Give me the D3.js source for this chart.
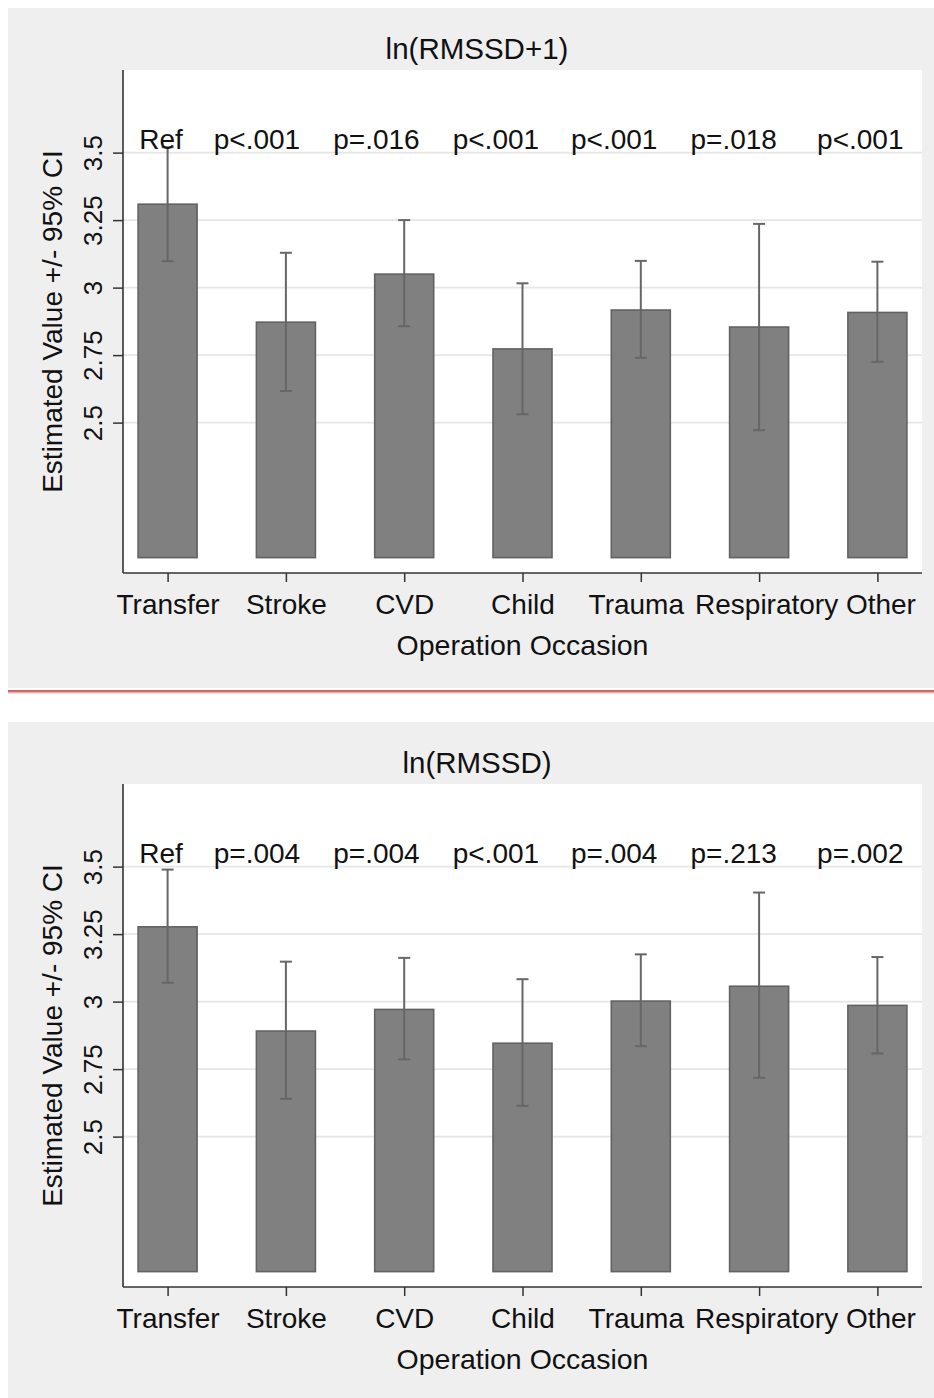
<!DOCTYPE html>
<html>
<head>
<meta charset="utf-8">
<script src="https://cdn.jsdelivr.net/npm/d3@7"></script>
<style>
  html, body { margin: 0; padding: 0; background: #ffffff; }
  svg { display: block; }
  text { font-family: "Liberation Sans", Arial, sans-serif; fill: #111111; }
</style>
</head>
<body>
<svg id="chart" width="934" height="1398"></svg>
<script>
// ---------- data ----------
const categories = ["Transfer", "Stroke", "CVD", "Child", "Trauma", "Respiratory", "Other"];
const yTicks = [2.5, 2.75, 3, 3.25, 3.5];

const rmssd1Mean  = [3.309, 2.872, 3.050, 2.773, 2.917, 2.854, 2.908];
const rmssd1Lower = [3.098, 2.617, 2.857, 2.531, 2.740, 2.472, 2.725];
const rmssd1Upper = [3.520, 3.129, 3.250, 3.016, 3.099, 3.236, 3.096];
const rmssd1P     = ["Ref", "p<.001", "p=.016", "p<.001", "p<.001", "p=.018", "p<.001"];

const rmssdMean  = [3.277, 2.891, 2.971, 2.846, 3.002, 3.057, 2.986];
const rmssdLower = [3.070, 2.640, 2.786, 2.614, 2.835, 2.718, 2.808];
const rmssdUpper = [3.489, 3.148, 3.162, 3.083, 3.175, 3.404, 3.165];
const rmssdP     = ["Ref", "p=.004", "p=.004", "p<.001", "p=.004", "p=.213", "p=.002"];

// annotation positions (category-index units, left edge of text) and height (data units)
const pLabelPos = [-0.24, 0.39, 1.40, 2.41, 3.41, 4.42, 5.49];
const pLabelY = 3.513;
const barBase = 2.0;
const yDomain = [1.943, 3.806];

const panels = [
  { title: "ln(RMSSD+1)", mean: rmssd1Mean, lower: rmssd1Lower, upper: rmssd1Upper, p: rmssd1P, top: 8 },
  { title: "ln(RMSSD)",   mean: rmssdMean,  lower: rmssdLower,  upper: rmssdUpper,  p: rmssdP,  top: 722 }
];

// ---------- layout ----------
const svg = d3.select("#chart");
const W = 934;
const plotL = 123, plotR = 922;
const plotTopRel = 62, plotBotRel = 565;   // relative to panel top
const panelH = 680;
const tickLabelNudge = { Trauma: -5, Respiratory: 7, Other: 3 };

// separator line
svg.append("rect").attr("x", 8).attr("y", 690).attr("width", W - 8).attr("height", 2.5)
  .attr("fill", "#d0646a");
svg.append("rect").attr("x", 8).attr("y", 692.5).attr("width", W - 8).attr("height", 1)
  .attr("fill", "#e8b4b6");

const x = d3.scalePoint().domain(categories).range([plotL, plotR]).padding(0.377);
const barW = 59;
const xIdx = d3.scaleLinear().domain([0, categories.length - 1])
  .range([x(categories[0]), x(categories[categories.length - 1])]);

panels.forEach(pn => {
  const g = svg.append("g").attr("transform", `translate(0,${pn.top})`);
  const yTop = plotTopRel, yBot = plotBotRel;
  const y = d3.scaleLinear().domain(yDomain).range([yBot, yTop]);

  // panel background
  g.append("rect").attr("x", 8).attr("y", 0).attr("width", W - 8).attr("height", panelH)
    .attr("fill", "#efefef");
  // plot area
  g.append("rect").attr("x", plotL).attr("y", yTop).attr("width", plotR - plotL).attr("height", yBot - yTop)
    .attr("fill", "#ffffff");

  // gridlines
  g.append("g").selectAll("line").data(yTicks).join("line")
    .attr("x1", plotL).attr("x2", plotR)
    .attr("y1", d => y(d)).attr("y2", d => y(d))
    .attr("stroke", "#e6e6e6").attr("stroke-width", 1.6);

  // bars
  const data = categories.map((c, i) => ({ c, m: pn.mean[i], lo: pn.lower[i], hi: pn.upper[i] }));
  g.append("g").selectAll("rect").data(data).join("rect")
    .attr("x", d => x(d.c) - barW / 2)
    .attr("width", barW)
    .attr("y", d => y(d.m))
    .attr("height", d => y(barBase) - y(d.m))
    .attr("fill", "#808080")
    .attr("stroke", "#626262").attr("stroke-width", 1.6);

  // error bars
  const eb = g.append("g").attr("stroke", "#666666").attr("stroke-width", 2);
  eb.selectAll("line.v").data(data).join("line").attr("class", "v")
    .attr("x1", d => x(d.c)).attr("x2", d => x(d.c))
    .attr("y1", d => y(d.lo)).attr("y2", d => y(d.hi));
  eb.selectAll("line.hi").data(data).join("line").attr("class", "hi")
    .attr("x1", d => x(d.c) - 6).attr("x2", d => x(d.c) + 6)
    .attr("y1", d => y(d.hi)).attr("y2", d => y(d.hi));
  eb.selectAll("line.lo").data(data).join("line").attr("class", "lo")
    .attr("x1", d => x(d.c) - 6).attr("x2", d => x(d.c) + 6)
    .attr("y1", d => y(d.lo)).attr("y2", d => y(d.lo));

  // p-value labels
  g.append("g").selectAll("text").data(pn.p).join("text")
    .attr("x", (d, i) => xIdx(pLabelPos[i]))
    .attr("y", y(pLabelY))
    .attr("font-size", 28)
    .text(d => d);

  // y axis
  const yAxis = d3.axisLeft(y).tickValues(yTicks).tickSize(10).tickFormat(d3.format("~g"));
  const ya = g.append("g").attr("transform", `translate(${plotL},0)`).call(yAxis);
  ya.select(".domain").remove();
  ya.selectAll(".tick line").attr("stroke", "#333").attr("stroke-width", 1.5);
  ya.selectAll(".tick text")
    .attr("font-size", 26).attr("fill", "#111")
    .attr("font-family", "Liberation Sans, Arial, sans-serif")
    .attr("x", null).attr("dy", null)
    .attr("text-anchor", "middle")
    .attr("transform", "translate(-21,0) rotate(-90)");
  g.append("line").attr("x1", plotL).attr("x2", plotL).attr("y1", yTop).attr("y2", yBot)
    .attr("stroke", "#333").attr("stroke-width", 1.6);

  // x axis
  const xAxis = d3.axisBottom(x).tickSize(9).tickSizeOuter(0);
  const xa = g.append("g").attr("transform", `translate(0,${yBot})`).call(xAxis);
  xa.select(".domain").remove();
  xa.selectAll(".tick line").attr("stroke", "#333").attr("stroke-width", 1.5);
  xa.selectAll(".tick text")
    .attr("font-size", 28).attr("fill", "#111")
    .attr("font-family", "Liberation Sans, Arial, sans-serif")
    .attr("y", 41).attr("dy", null)
    .attr("x", d => tickLabelNudge[d] || 0);
  g.append("line").attr("x1", plotL).attr("x2", plotR).attr("y1", yBot).attr("y2", yBot)
    .attr("stroke", "#333").attr("stroke-width", 1.6);

  // titles
  g.append("text").attr("x", 477).attr("y", 51).attr("text-anchor", "middle")
    .attr("font-size", 29.5).text(pn.title);
  g.append("text").attr("x", (plotL + plotR) / 2).attr("y", yBot + 82).attr("text-anchor", "middle")
    .attr("font-size", 28.5).text("Operation Occasion");
  g.append("text")
    .attr("transform", `translate(62,${(yTop + yBot) / 2}) rotate(-90)`)
    .attr("text-anchor", "middle")
    .attr("font-size", 28).text("Estimated Value +/- 95% CI");
});
</script>
</body>
</html>
